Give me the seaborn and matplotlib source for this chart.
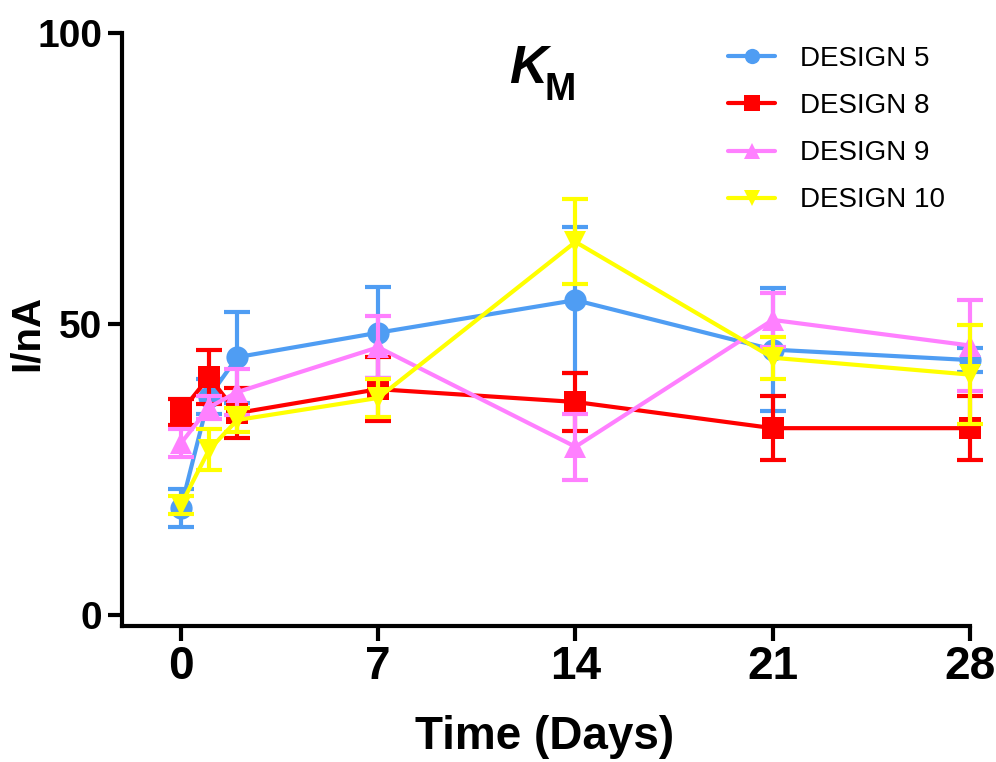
import numpy as np
import pandas as pd
import matplotlib
matplotlib.use("Agg")
import matplotlib.pyplot as plt
from matplotlib.lines import Line2D
import seaborn as sns

# data (mean and error, I/nA)
days = [0, 1, 2, 7, 14, 21, 28]
designs = ["DESIGN 5", "DESIGN 8", "DESIGN 9", "DESIGN 10"]
design5 = [18.4, 37.5, 44.3, 48.5, 54.1, 45.6, 43.8]
design5_err = [3.3, 3.0, 7.8, 7.8, 12.5, 10.5, 2.0]
design8 = [34.9, 40.9, 34.7, 38.8, 36.6, 32.1, 32.1]
design8_err = [2.2, 4.6, 4.3, 5.5, 5.0, 5.5, 5.5]
design9 = [29.5, 35.7, 38.3, 46.0, 28.9, 50.7, 46.3]
design9_err = [2.4, 2.0, 4.0, 5.3, 5.7, 4.6, 7.8]
design10 = [18.9, 28.4, 33.5, 37.3, 64.1, 44.2, 41.3]
design10_err = [1.5, 3.5, 2.0, 3.2, 7.3, 3.6, 8.5]

colors = ["#4F9DF3", "#FF0000", "#FF80FF", "#FFFF00"]
markers = ["o", "s", "^", "v"]

means = [design5, design8, design9, design10]
errs = [design5_err, design8_err, design9_err, design10_err]

df = pd.concat([
    pd.DataFrame({"day": days, "I": m, "err": e, "design": name})
    for name, m, e in zip(designs, means, errs)
], ignore_index=True)

sns.set_style("ticks")
plt.rcParams["font.family"] = ["Liberation Sans", "DejaVu Sans"]
plt.rcParams["text.color"] = "black"
plt.rcParams["axes.labelcolor"] = "black"
plt.rcParams["xtick.color"] = "black"
plt.rcParams["ytick.color"] = "black"

fig = plt.figure(figsize=(9.96, 7.62), dpi=100)
ax = fig.add_axes([0.1225, 0.1785, 0.8514, 0.7782])

for i, (name, c, mk) in enumerate(zip(designs, colors, markers)):
    sub = df[df["design"] == name]
    ax.errorbar(sub["day"], sub["I"], yerr=sub["err"], fmt="none", ecolor=c,
                elinewidth=3, capsize=9.5, capthick=3, zorder=3 + 2 * i, clip_on=False)
    sns.lineplot(data=sub, x="day", y="I", color=c, marker=mk, markersize=16,
                 markeredgewidth=0, linewidth=3, legend=False, ax=ax,
                 zorder=4 + 2 * i, clip_on=False)

ax.set_xlim(-2.09, 28)
ax.set_ylim(-1.89, 100)
ax.set_xticks([0, 7, 14, 21, 28])
ax.set_yticks([0, 50, 100])

for side in ["top", "right"]:
    ax.spines[side].set_visible(False)
for side in ["left", "bottom"]:
    ax.spines[side].set_linewidth(3)
    ax.spines[side].set_color("black")

ax.tick_params(axis="x", length=11, width=3, pad=3, labelsize=33,
               color="black", labelcolor="black")
ax.tick_params(axis="y", length=10, width=3, pad=4, labelsize=28,
               color="black", labelcolor="black")
for lab in ax.get_xticklabels() + ax.get_yticklabels():
    lab.set_fontweight("bold")

ax.set_xlabel("Time (Days)", fontsize=33, fontweight="bold", color="black")
ax.set_ylabel("I/nA", fontsize=29, fontweight="bold", color="black")
ax.xaxis.set_label_coords(0.498, -0.15)
ax.yaxis.set_label_coords(-0.09, 0.494)

# title K_M
fig.text(509 / 996, 1 - 83 / 762, "K", fontsize=38, fontweight="bold",
         fontstyle="italic", ha="left", va="baseline", color="black")
fig.text(544 / 996, 1 - 100 / 762, "M", fontsize=27, fontweight="bold",
         ha="left", va="baseline", color="black")

handles = [Line2D([0], [0], color=c, marker=mk, markersize=11, markeredgewidth=0, linewidth=3)
           for c, mk in zip(colors, markers)]
fig.legend(handles, designs, loc="upper left", bbox_to_anchor=(0.731, 0.9396),
           frameon=False, fontsize=20, handlelength=1.7, handletextpad=0.9,
           labelspacing=0.76, borderpad=0, borderaxespad=0, labelcolor="black")

fig.savefig("out.png", dpi=100)
